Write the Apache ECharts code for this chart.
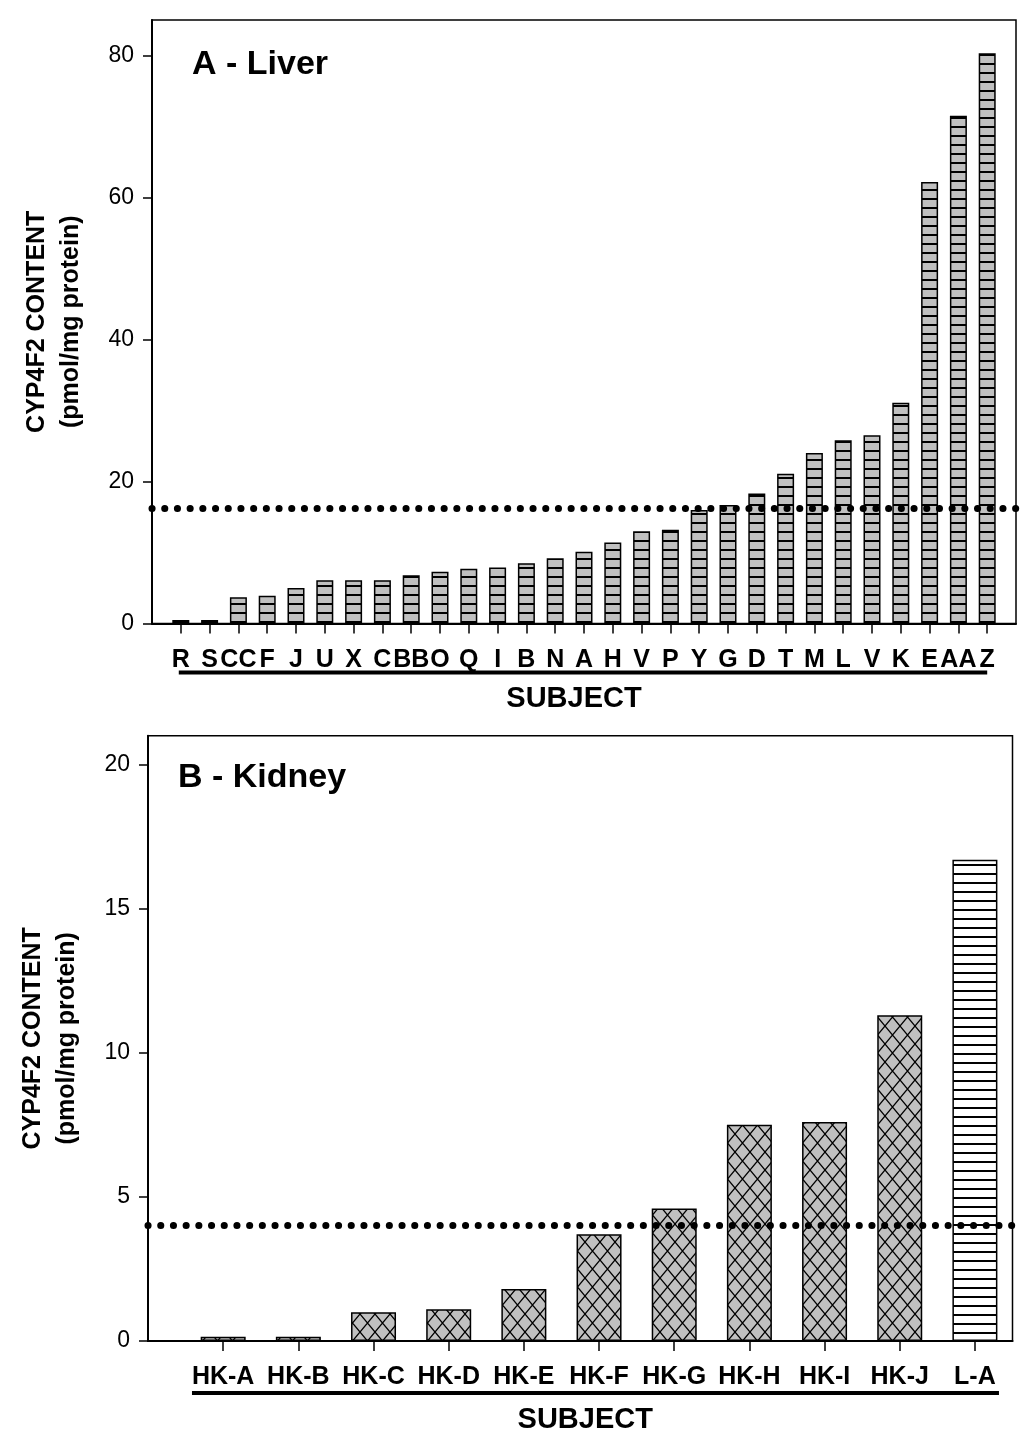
<!DOCTYPE html>
<html><head><meta charset="utf-8">
<script src="https://cdn.jsdelivr.net/npm/echarts@6/dist/echarts.min.js"></script>
<style>html,body{margin:0;padding:0;background:#fff}#c{width:1033px;height:1446px}</style>
</head><body><div id="c"></div>
<script>
// ---------- data ----------
const liverSubjects = ['R','S','CC','F','J','U','X','C','BB','O','Q','I','B','N','A','H','V','P','Y','G','D','T','M','L','V','K','E','AA','Z'];
const liverValues = [0.5,0.5,3.7,3.9,5.0,6.1,6.1,6.1,6.8,7.3,7.7,7.9,8.5,9.2,10.1,11.4,13.0,13.2,16.0,16.7,18.3,21.1,24.0,25.8,26.5,31.1,62.2,71.5,80.3];
const liverThreshold = 16.2;
const liverTicks = [0, 20, 40, 60, 80];

const kidneySubjects = ['HK-A','HK-B','HK-C','HK-D','HK-E','HK-F','HK-G','HK-H','HK-I','HK-J','L-A'];
const kidneyValues = [0.15,0.15,1.0,1.1,1.8,3.7,4.6,7.5,7.6,11.3,16.7];
const kidneyThreshold = 4.0;
const kidneyTicks = [0, 5, 10, 15, 20];

// ---------- fill patterns ----------
function stripes(bg, period, lw) {
  const c = document.createElement('canvas'); c.width = 16; c.height = period;
  const g = c.getContext('2d');
  g.fillStyle = bg; g.fillRect(0, 0, 16, period);
  g.fillStyle = '#000'; g.fillRect(0, 0, 16, lw);
  return c;
}
function hatch(bg, w, h) {
  const c = document.createElement('canvas'); c.width = w; c.height = h;
  const g = c.getContext('2d');
  g.fillStyle = bg; g.fillRect(0, 0, w, h);
  g.strokeStyle = '#000'; g.lineWidth = 1.3;
  g.beginPath();
  for (let dx = -w; dx <= w; dx += w) {
    g.moveTo(dx - w * 0.5, -h * 0.5); g.lineTo(dx + w * 1.5, h * 1.5);
    g.moveTo(dx + w * 1.5, -h * 0.5); g.lineTo(dx - w * 0.5, h * 1.5);
  }
  g.stroke();
  return c;
}
const grayStripe = { image: stripes('#c0c0c0', 9, 2), repeat: 'repeat' };
const whiteStripe = { image: stripes('#ffffff', 9, 2), repeat: 'repeat' };
const grayHatch = { image: hatch('#c0c0c0', 15, 18), repeat: 'repeat' };

const FONT = '"Liberation Sans", Arial, sans-serif';
const black = '#000';

function xAxisCfg(grid, names, max, nameGap, namePad) {
  const pos = names.map((_, i) => i + 1);
  return {
    gridIndex: grid, type: 'value', min: 0, max: max, interval: 1,
    axisLine: { lineStyle: { color: black, width: 2 } },
    axisTick: { customValues: pos, length: 10, lineStyle: { color: black, width: 1.5 } },
    axisLabel: { customValues: pos, formatter: v => names[Math.round(v) - 1] || '',
      fontFamily: FONT, fontWeight: 'bold', fontSize: 25, color: black, margin: 24 },
    splitLine: { show: false },
    name: 'SUBJECT', nameLocation: 'middle', nameGap: nameGap,
    nameTextStyle: { fontFamily: FONT, fontWeight: 'bold', fontSize: 29, color: black, padding: namePad }
  };
}
function yAxisCfg(grid, max, interval, ticks) {
  return {
    gridIndex: grid, type: 'value', min: 0, max: max, interval: interval,
    axisLine: { show: true, lineStyle: { color: black, width: 2 } },
    axisTick: { show: true, customValues: ticks, length: 9, lineStyle: { color: black, width: 1.5 } },
    axisLabel: { customValues: ticks, fontFamily: FONT, fontSize: 23, color: black, margin: 18 },
    splitLine: { show: false },
    name: 'CYP4F2 CONTENT\n(pmol/mg protein)', nameLocation: 'middle', nameRotate: 90, nameGap: 64,
    nameTextStyle: { fontFamily: FONT, fontWeight: 'bold', fontSize: 25, lineHeight: 34, color: black, align: 'center' }
  };
}
function dotted(val) {
  return {
    silent: true, symbol: ['none', 'none'], label: { show: false },
    lineStyle: { color: black, width: 7, type: [0.1, 12.6], cap: 'round', opacity: 1 },
    emphasis: { disabled: true },
    data: [{ yAxis: val }]
  };
}

const chart = echarts.init(document.getElementById('c'), null, { renderer: 'canvas' });
chart.setOption({
  animation: false,
  backgroundColor: '#fff',
  title: [
    { text: 'A - Liver', left: 192, top: 48, padding: 0,
      textStyle: { fontFamily: FONT, fontWeight: 'bold', fontSize: 34, color: black } },
    { text: 'B - Kidney', left: 178, top: 761, padding: 0,
      textStyle: { fontFamily: FONT, fontWeight: 'bold', fontSize: 34, color: black } }
  ],
  grid: [
    { left: 152, width: 864, top: 20, height: 603.5, show: true, borderColor: black, borderWidth: 1.5 },
    { left: 148, width: 864.5, top: 735.7, height: 605.3, show: true, borderColor: black, borderWidth: 1.5 }
  ],
  xAxis: [
    xAxisCfg(0, liverSubjects, 30, 61, [0, 20, 0, 0]),
    xAxisCfg(1, kidneySubjects, 11.5, 64, [0, 0, 0, 10])
  ],
  yAxis: [
    yAxisCfg(0, 85, 20, liverTicks),
    yAxisCfg(1, 21, 5, kidneyTicks)
  ],
  series: [
    { type: 'bar', xAxisIndex: 0, yAxisIndex: 0, barWidth: 17,
      data: liverSubjects.map((s, i) => [i + 1, liverValues[i]]),
      itemStyle: { color: grayStripe, borderColor: black, borderWidth: 1.5 },
      markLine: dotted(liverThreshold) },
    { type: 'bar', xAxisIndex: 1, yAxisIndex: 1, barWidth: 45,
      data: kidneySubjects.map((s, i) => ({
        value: [i + 1, kidneyValues[i]],
        itemStyle: { color: s.startsWith('HK') ? grayHatch : whiteStripe }
      })),
      itemStyle: { borderColor: black, borderWidth: 1.5 },
      markLine: dotted(kidneyThreshold) }
  ]
});

// underline decorations below the subject labels
const a0 = chart.convertToPixel({ gridIndex: 0 }, [0.93, 0]);
const a1 = chart.convertToPixel({ gridIndex: 0 }, [29.0, 0]);
const b0 = chart.convertToPixel({ gridIndex: 1 }, [0.585, 0]);
const b1 = chart.convertToPixel({ gridIndex: 1 }, [11.32, 0]);
chart.setOption({
  graphic: [
    { type: 'line', shape: { x1: a0[0], y1: a0[1] + 49, x2: a1[0], y2: a1[1] + 49 },
      style: { stroke: black, lineWidth: 4 } },
    { type: 'line', shape: { x1: b0[0], y1: b0[1] + 52, x2: b1[0], y2: b1[1] + 52 },
      style: { stroke: black, lineWidth: 4 } }
  ]
});
</script></body></html>
